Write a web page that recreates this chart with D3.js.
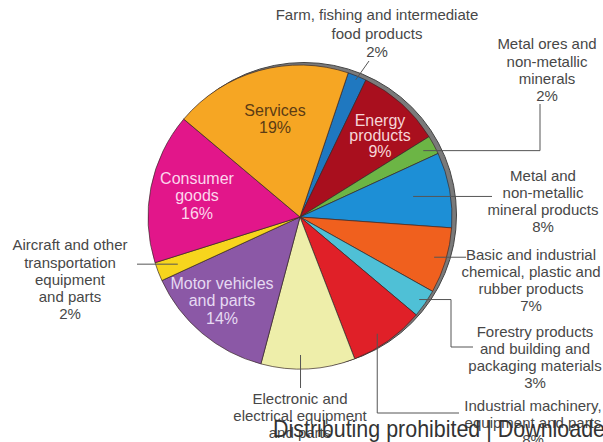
<!DOCTYPE html>
<html><head><meta charset="utf-8">
<script src="https://cdn.jsdelivr.net/npm/d3@7"></script>
<style>
html,body{margin:0;padding:0;background:#fff;}
svg{display:block;}
text{font-family:"Liberation Sans",Arial,sans-serif;}
</style></head>
<body>
<svg id="chart" width="603" height="442"></svg>
<script>
// ---- data ----
const categories = [
  "Farm, fishing and intermediate food products",
  "Energy products",
  "Metal ores and non-metallic minerals",
  "Metal and non-metallic mineral products",
  "Basic and industrial chemical, plastic and rubber products",
  "Forestry products and building and packaging materials",
  "Industrial machinery, equipment and parts",
  "Electronic and electrical equipment and parts",
  "Motor vehicles and parts",
  "Aircraft and other transportation equipment and parts",
  "Consumer goods",
  "Services"
];
const shares = [2, 9, 2, 8, 7, 3, 8, 10, 14, 2, 16, 19];
const labelLines = [
  ["Farm, fishing and intermediate", "food products"],
  ["Energy", "products"],
  ["Metal ores and", "non-metallic", "minerals"],
  ["Metal and", "non-metallic", "mineral products"],
  ["Basic and industrial", "chemical, plastic and", "rubber products"],
  ["Forestry products", "and building and", "packaging materials"],
  ["Industrial machinery,", "equipment and parts"],
  ["Electronic and", "electrical equipment", "and parts"],
  ["Motor vehicles", "and parts"],
  ["Aircraft and other", "transportation", "equipment", "and parts"],
  ["Consumer", "goods"],
  ["Services"]
];
const colors = ["#1f78c0","#a90f1e","#6cb545","#1d8fd6","#f0601e","#4fc0d6",
                "#e02028","#eeeeaa","#8b58a6","#f7d51d","#e2168a","#f6a623"];

// ---- layout (styles / positions, not data) ----
const cx = 300, cy = 217, R = 152;
const startDeg = 18.5;
const layout = [
  {x:377, y:15, lh:18.5, inside:false, leader:{t:0.5, r:148, pts:[[369,61]]}},
  {x:380, y:120, lh:15.5, inside:true, color:"#f6d6d8"},
  {x:547, y:44, lh:17.3, inside:false, leader:{t:0.5, r:140, pts:[[540,"a"],[540,104]]}},
  {x:543, y:176, lh:17, inside:false, leader:{t:0.5, r:115, pts:[[492,"a"]]}},
  {x:531, y:255, lh:17, inside:false, leader:{t:0.5, r:140, pts:[[466,"a"]]}},
  {x:535, y:332, lh:17, inside:false, leader:{t:0.5, r:145, pts:[[451,"a"],[451,347],[473,347]]}},
  {x:533, y:406, lh:17, inside:false, leader:{t:0.57, r:140, pts:[["a",413],[459,413]]}},
  {x:300, y:399, lh:17, inside:false, leader:{t:0.58, r:138, pts:[["a",388]]}},
  {x:222, y:283, lh:17.5, inside:true, color:"#e6daf2"},
  {x:70, y:245, lh:17.3, inside:false, leader:{t:0.5, r:131, pts:[[137,"a"]]}},
  {x:197, y:178, lh:17.5, inside:true, color:"#fcd6ec"},
  {x:275, y:110, lh:17.5, inside:true, color:"#5c3c14"}
];

const svg = d3.select("#chart");
const g = svg.append("g").attr("transform", `translate(${cx},${cy})`);

const rad = d => d * Math.PI / 180;
const pie = d3.pie().sort(null).value(d => d)
  .startAngle(rad(startDeg)).endAngle(rad(startDeg + 360));
const arcs = pie(shares);
const arc = d3.arc().innerRadius(0).outerRadius(R);

// 3D-ish grey rim behind the pie
g.append("circle").attr("cx", 4).attr("cy", -2).attr("r", R + 0.5)
  .attr("fill", "#7a7a7a").attr("stroke", "#444").attr("stroke-width", 1);

g.selectAll("path.slice").data(arcs).join("path")
  .attr("class", "slice")
  .attr("d", arc)
  .attr("fill", (d, i) => colors[i])
  .attr("stroke", "#3a2a2a").attr("stroke-width", 0.7);

// leaders
const lg = svg.append("g");
arcs.forEach((a, i) => {
  const L = layout[i].leader;
  if (!L) return;
  const ang = a.startAngle + (a.endAngle - a.startAngle) * L.t;
  const ax = cx + L.r * Math.sin(ang), ay = cy - L.r * Math.cos(ang);
  const pts = [[ax, ay]];
  L.pts.forEach(p => pts.push([p[0] === "a" ? ax : p[0], p[1] === "a" ? ay : p[1]]));
  lg.append("path").attr("d", d3.line()(pts))
    .attr("fill", "none").attr("stroke", "#555").attr("stroke-width", 1);
});

// labels
const tg = svg.append("g");
arcs.forEach((a, i) => {
  const Lo = layout[i];
  const lines = labelLines[i].concat([shares[i] + "%"]);
  const t = tg.append("text")
    .attr("text-anchor", "middle")
    .attr("font-size", Lo.inside ? 16 : 15)
    .attr("fill", Lo.inside ? Lo.color : "#474747");
  lines.forEach((s, k) => {
    t.append("tspan").attr("x", Lo.x).attr("y", Lo.y + k * Lo.lh)
      .attr("dy", "0.35em").text(s);
  });
});

// watermark
svg.append("text")
  .attr("x", 273).attr("y", 437)
  .attr("font-family", "Roboto, sans-serif")
  .attr("font-weight", 300)
  .attr("font-size", 24)
  .attr("textLength", 332).attr("lengthAdjust", "spacingAndGlyphs")
  .attr("fill", "#333")
  .text("Distributing prohibited | Downloade");
</script>
</body></html>
